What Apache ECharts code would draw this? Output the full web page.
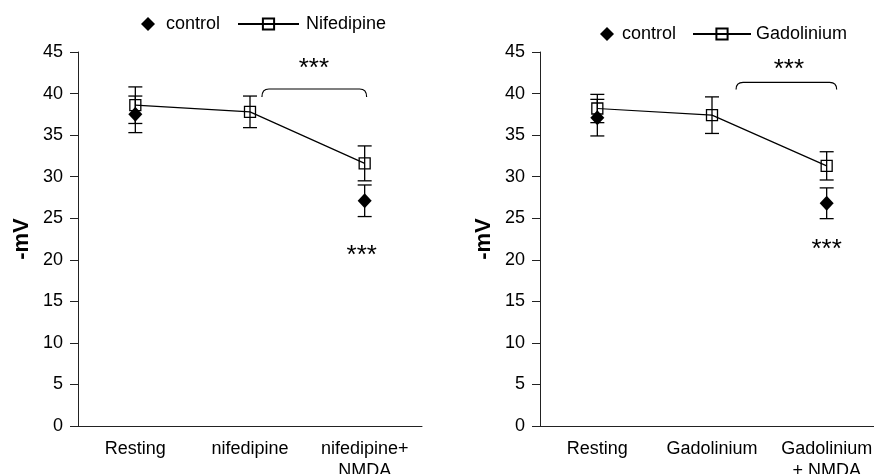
<!DOCTYPE html>
<html>
<head>
<meta charset="utf-8">
<script src="https://cdn.jsdelivr.net/npm/echarts@6/dist/echarts.min.js"></script>
<style>
  html, body { margin: 0; padding: 0; background: #fff; }
  #chart { width: 874px; height: 474px; }
</style>
</head>
<body>
<div id="chart"></div>
<script>
// categories
const leftCategories = ['Resting', 'nifedipine', 'nifedipine+\nNMDA']
const rightCategories = ['Resting', 'Gadolinium', 'Gadolinium\n+ NMDA']

// y axis ticks: 0 .. 45 step 5
const yMin = 0
const yMax = 45
const yStep = 5

// left panel (mean, error)
const nifControl = [37.5, null, 27.1]
const nifControlErr = [2.2, null, 1.9]
const nifedipine = [38.6, 37.8, 31.6]
const nifedipineErr = [2.2, 1.9, 2.1]

// right panel (mean, error)
const gadControl = [37.1, null, 26.8]
const gadControlErr = [2.2, null, 1.85]
const gadolinium = [38.2, 37.4, 31.3]
const gadoliniumErr = [1.7, 2.2, 1.7]

// significance marks: bracket [from cat, to cat, top value, end value], stars [cat, value]
const nifBracket = [1.104, 2.017, 40.55, 39.6]
const nifStars = [[1.557, 43.0], [1.974, 20.5]]
const gadBracket = [1.21, 2.087, 41.35, 40.5]
const gadStars = [[1.67, 42.85], [2.0, 21.2]]

const FONT = 'Liberation Sans, Arial, sans-serif'
const AXIS_COLOR = '#222'
const chart = echarts.init(document.getElementById('chart'))

function errData (mean, err) {
  const out = []
  mean.forEach((v, i) => {
    if (v != null) out.push([i, v - err[i], v + err[i]])
  })
  return out
}

function errorBars (gridIdx, mean, err) {
  return {
    type: 'custom',
    xAxisIndex: gridIdx,
    yAxisIndex: gridIdx,
    silent: true,
    z: 3,
    data: errData(mean, err),
    renderItem: function (params, api) {
      const lo = api.coord([api.value(0), api.value(1)])
      const hi = api.coord([api.value(0), api.value(2)])
      const w = 7
      const st = { stroke: '#000', lineWidth: 1.3 }
      return {
        type: 'group',
        children: [
          { type: 'line', shape: { x1: lo[0], y1: lo[1], x2: hi[0], y2: hi[1] }, style: st },
          { type: 'line', shape: { x1: lo[0] - w, y1: lo[1], x2: lo[0] + w, y2: lo[1] }, style: st },
          { type: 'line', shape: { x1: hi[0] - w, y1: hi[1], x2: hi[0] + w, y2: hi[1] }, style: st }
        ]
      }
    }
  }
}

function signif (gridIdx, bracket, stars) {
  return {
    type: 'custom',
    xAxisIndex: gridIdx,
    yAxisIndex: gridIdx,
    silent: true,
    z: 4,
    data: [[0, 0]],
    renderItem: function (params, api) {
      const c0 = api.coord([0, 0])
      const c1 = api.coord([1, 0])
      const band = c1[0] - c0[0]
      const px = (cat) => c0[0] + cat * band
      const py = (v) => api.coord([0, v])[1]
      const x1 = px(bracket[0])
      const x2 = px(bracket[1])
      const yt = py(bracket[2])
      const ye = py(bracket[3])
      const r = 7
      const children = [{
        type: 'path',
        shape: {
          pathData: 'M' + x1 + ' ' + ye + ' Q' + x1 + ' ' + yt + ' ' + (x1 + r) + ' ' + yt +
            ' L' + (x2 - r) + ' ' + yt + ' Q' + x2 + ' ' + yt + ' ' + x2 + ' ' + ye
        },
        style: { stroke: '#000', lineWidth: 1.2, fill: null }
      }]
      stars.forEach(s => {
        children.push({
          type: 'text',
          style: {
            x: px(s[0]),
            y: py(s[1]),
            text: '***',
            fontSize: 26,
            fontFamily: FONT,
            fill: '#000',
            align: 'center',
            verticalAlign: 'middle'
          }
        })
      })
      return { type: 'group', children: children }
    }
  }
}

function xAxis (gridIdx, cats) {
  return {
    type: 'category',
    gridIndex: gridIdx,
    data: cats,
    axisLine: { lineStyle: { color: AXIS_COLOR, width: 1 } },
    axisTick: { length: 6, lineStyle: { color: AXIS_COLOR } },
    axisLabel: { color: '#000', fontSize: 18, lineHeight: 22, margin: 12, interval: 0, fontFamily: FONT }
  }
}

function yAxis (gridIdx) {
  return {
    type: 'value',
    gridIndex: gridIdx,
    min: yMin,
    max: yMax,
    interval: yStep,
    name: '-mV',
    nameLocation: 'middle',
    nameGap: 45,
    nameTextStyle: { color: '#000', fontSize: 22, fontWeight: 'bold', fontFamily: FONT },
    splitLine: { show: false },
    axisLine: { show: true, lineStyle: { color: AXIS_COLOR, width: 1 } },
    axisTick: { show: true, length: 8, lineStyle: { color: AXIS_COLOR } },
    axisLabel: { color: '#000', fontSize: 18, margin: 15, fontFamily: FONT }
  }
}

function controlSeries (gridIdx, data) {
  return {
    name: 'control',
    type: 'scatter',
    xAxisIndex: gridIdx,
    yAxisIndex: gridIdx,
    symbol: 'diamond',
    symbolSize: [14, 15],
    itemStyle: { color: '#000', opacity: 1 },
    z: 2,
    data: data.map(v => (v == null ? '-' : v))
  }
}

function drugSeries (gridIdx, name, data) {
  return {
    name: name,
    type: 'line',
    xAxisIndex: gridIdx,
    yAxisIndex: gridIdx,
    symbol: 'rect',
    symbolSize: 11,
    itemStyle: { color: 'rgba(0,0,0,0)', borderColor: '#000', borderWidth: 1.3 },
    lineStyle: { color: '#000', width: 1.2 },
    z: 5,
    data: data
  }
}

function legend (name, left, top, width, icon, pad) {
  const lg = {
    data: [name],
    left: left,
    top: top,
    padding: 0,
    itemWidth: width,
    itemHeight: 14,
    selectedMode: false,
    textStyle: { color: '#000', fontSize: 18, fontFamily: FONT, padding: [0, 0, 0, pad] }
  }
  if (icon) lg.icon = icon
  return lg
}

const option = {
  animation: false,
  backgroundColor: '#fff',
  textStyle: { fontFamily: FONT },
  legend: [
    legend('control', 141, 15, 14, 'diamond', 6),
    legend('Nifedipine', 237, 15, 61, null, 2),
    legend('control', 600, 25, 14, 'diamond', 3),
    legend('Gadolinium', 692, 25, 58, null, 0)
  ],
  grid: [
    { left: 78, top: 52, width: 344, height: 374, outerBoundsMode: 'none' },
    { left: 540, top: 52, width: 344, height: 374, outerBoundsMode: 'none' }
  ],
  xAxis: [xAxis(0, leftCategories), xAxis(1, rightCategories)],
  yAxis: [yAxis(0), yAxis(1)],
  series: [
    controlSeries(0, nifControl),
    drugSeries(0, 'Nifedipine', nifedipine),
    errorBars(0, nifControl, nifControlErr),
    errorBars(0, nifedipine, nifedipineErr),
    signif(0, nifBracket, nifStars),
    controlSeries(1, gadControl),
    drugSeries(1, 'Gadolinium', gadolinium),
    errorBars(1, gadControl, gadControlErr),
    errorBars(1, gadolinium, gadoliniumErr),
    signif(1, gadBracket, gadStars)
  ]
}
chart.setOption(option)
</script>
</body>
</html>
